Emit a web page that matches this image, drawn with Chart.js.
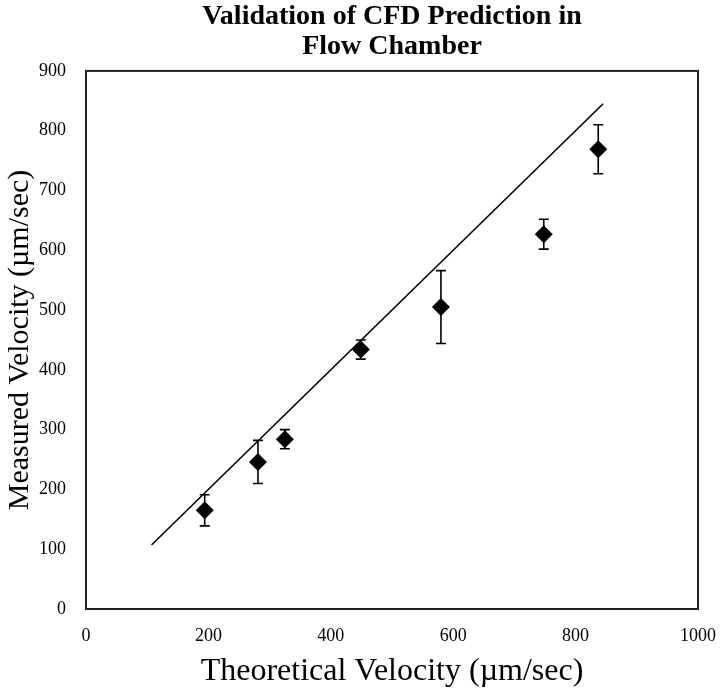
<!DOCTYPE html>
<html>
<head>
<meta charset="utf-8">
<script src="https://cdn.jsdelivr.net/npm/chart.js@4"></script>
<style>
  html, body { margin: 0; padding: 0; background: #fff; }
  #wrap { width: 720px; height: 691px; }
</style>
</head>
<body>
<div id="wrap"><canvas id="mainChart"></canvas></div>
<script>
// values
const theoretical = [194, 281, 325, 449, 580, 748, 837];
const measured = [165, 246, 284, 434, 505, 627, 769];
const errors = [26, 36, 16, 16, 61, 25, 41];
const idealX = [107, 845];
const idealY = [107, 845];
const xTicks = [0, 200, 400, 600, 800, 1000];
const yTicks = [0, 100, 200, 300, 400, 500, 600, 700, 800, 900];

const serif = "'Liberation Serif', 'Times New Roman', serif";

// frame around the plot area
const frameBox = {
    id: 'frameBox',
    afterDraw(chart) {
        const a = chart.chartArea;
        const ctx = chart.ctx;
        ctx.save();
        ctx.strokeStyle = '#222';
        ctx.lineWidth = 2;
        ctx.strokeRect(a.left, a.top, a.right - a.left, a.bottom - a.top);
        ctx.restore();
    }
};

// vertical error bars with caps, placed through the scales
const errorBars = {
    id: 'errorBars',
    beforeDatasetsDraw(chart) {
        const xs = chart.scales.x, ys = chart.scales.y;
        const ctx = chart.ctx;
        ctx.save();
        ctx.strokeStyle = '#000';
        ctx.lineWidth = 1.6;
        for (let i = 0; i < measured.length; i++) {
            const px = xs.getPixelForValue(theoretical[i]);
            const top = ys.getPixelForValue(measured[i] + errors[i]);
            const bot = ys.getPixelForValue(measured[i] - errors[i]);
            ctx.beginPath();
            ctx.moveTo(px, top); ctx.lineTo(px, bot);
            ctx.moveTo(px - 5, top); ctx.lineTo(px + 5, top);
            ctx.moveTo(px - 5, bot); ctx.lineTo(px + 5, bot);
            ctx.stroke();
        }
        ctx.restore();
    }
};

const ctx = document.getElementById('mainChart').getContext('2d');
Chart.defaults.font.family = serif;
Chart.defaults.color = '#000';

new Chart(ctx, {
    type: 'scatter',
    data: {
        datasets: [
            {
                label: 'Ideal',
                data: idealX.map((x, i) => ({ x: x, y: idealY[i] })),
                showLine: true,
                borderColor: '#000',
                borderWidth: 1.6,
                pointRadius: 0,
                order: 2
            },
            {
                label: 'Measured',
                data: theoretical.map((x, i) => ({ x: x, y: measured[i] })),
                pointStyle: 'rectRot',
                pointRadius: 9,
                backgroundColor: '#000',
                borderColor: '#000',
                borderWidth: 0,
                order: 1
            }
        ]
    },
    options: {
        responsive: true, maintainAspectRatio: false, animation: false,
        layout: { padding: { left: 2, right: 22, top: 2, bottom: 0 } },
        plugins: {
            legend: { display: false },
            tooltip: { enabled: false },
            title: {
                display: true,
                fullSize: false,
                text: ['Validation of CFD Prediction in', 'Flow Chamber'],
                font: { family: serif, size: 28, weight: 'bold', lineHeight: 1.07 },
                color: '#000',
                padding: { top: 0, bottom: 9 }
            }
        },
        scales: {
            x: {
                type: 'linear', min: 0, max: 1000,
                afterBuildTicks: s => { s.ticks = xTicks.map(v => ({ value: v })); },
                afterFit: s => { s.height = 82; s.paddingLeft = 0; s.paddingRight = 0; },
                grid: { display: false, drawTicks: false },
                border: { display: false },
                ticks: { font: { size: 18 }, padding: 16, maxRotation: 0, callback: v => String(v) },
                title: { display: true, text: 'Theoretical Velocity (µm/sec)', font: { size: 32 }, padding: { top: 4, bottom: 0 } }
            },
            y: {
                type: 'linear', min: 0, max: 900,
                afterBuildTicks: s => { s.ticks = yTicks.map(v => ({ value: v })); },
                afterFit: s => { s.width = 84; },
                grid: { display: false, drawTicks: false },
                border: { display: false },
                ticks: { font: { size: 18 }, padding: 20, callback: v => String(v) },
                title: { display: true, text: 'Measured Velocity (µm/sec)', font: { size: 30 }, padding: { top: 0, bottom: 0 } }
            }
        }
    },
    plugins: [frameBox, errorBars]
});
</script>
</body>
</html>
